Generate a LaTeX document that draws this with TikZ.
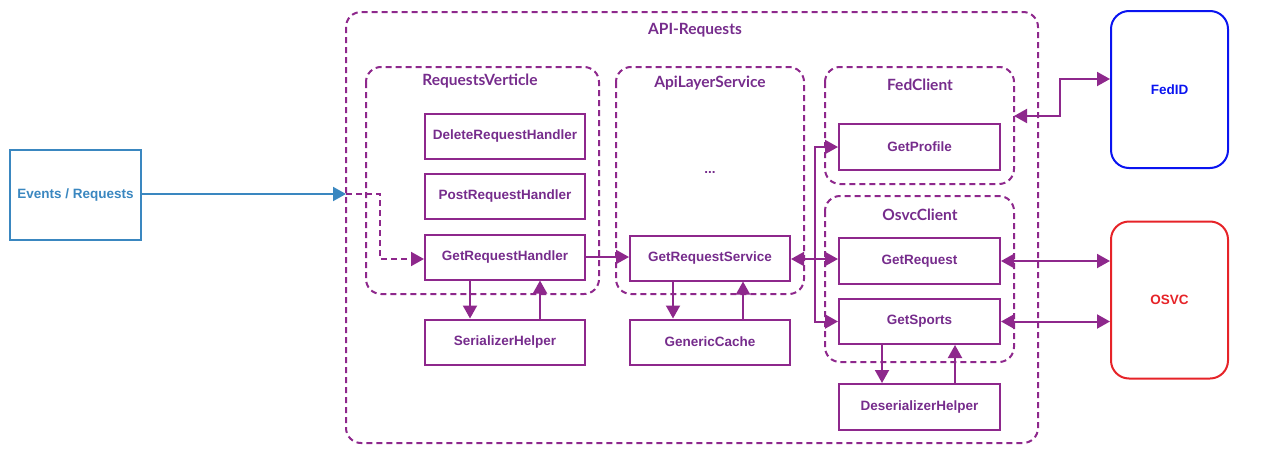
\documentclass[tikz,border=0pt]{standalone}
\usepackage{fontspec}
\setmainfont{Liberation Sans}
\newfontfamily\titlefont{Lato}
\usetikzlibrary{arrows.meta}
\definecolor{pur}{RGB}{142,40,140}
\definecolor{purtext}{RGB}{118,44,140}
\definecolor{evblue}{RGB}{58,135,192}
\definecolor{fedblue}{RGB}{10,20,240}
\definecolor{osvcred}{RGB}{230,35,40}
\begin{document}
\begin{tikzpicture}[x=1pt,y=-1pt,
  >={Triangle[length=13pt,width=14pt]},
  tip/.style={->},
  dtip/.style={<->},
  box/.style={draw=pur,line width=2pt,minimum width=160pt,minimum height=45pt,inner sep=0pt,
    text=purtext,font=\bfseries\fontsize{13.5}{15}\selectfont},
  group/.style={draw=pur,line width=2pt,dash pattern=on 6pt off 4pt,rounded corners=15pt},
  gtitle/.style={text=purtext,font=\titlefont\bfseries\fontsize{15.5}{17}\selectfont},
  conn/.style={draw=pur,line width=2pt},
  ext/.style={line width=2pt,rounded corners=18pt,minimum width=117pt,minimum height=157pt,inner sep=0pt,
    font=\bfseries\fontsize{13.5}{15}\selectfont}]
\useasboundingbox (0,0) rectangle (1268,471);
% containers
\draw[group] (346,12) rectangle (1038,443);
\node[gtitle] (tapi) at (695,30) {API-Requests};
\draw[group] (366,67) rectangle (599,294);
\node[gtitle] (trv) at (480,81) {RequestsVerticle};
\draw[group] (616,67) rectangle (804,294);
\node[gtitle] (tals) at (710,83) {ApiLayerService};
\coordinate (fcr) at (1014,116);
\draw[group] (825,67) rectangle (1014,184);
\node[gtitle] (tfc) at (920,85) {FedClient};
\draw[group] (825,196) rectangle (1014,362);
\node[gtitle] (toc) at (920,215) {OsvcClient};
% external
\node[draw=evblue,line width=2pt,minimum width=131pt,minimum height=90pt,inner sep=0pt,
  text=evblue,font=\bfseries\fontsize{13.5}{15}\selectfont] (ev) at (75.5,195) {Events / Requests};
\node[ext,draw=fedblue,text=fedblue] (fed) at (1169.5,89.5) {FedID};
\node[ext,draw=osvcred,text=osvcred] (osvc) at (1169.5,300) {OSVC};
% boxes
\node[box] (drh) at (505,136) {DeleteRequestHandler};
\node[box] (prh) at (505,196.5) {PostRequestHandler};
\node[box] (grh) at (505,257) {GetRequestHandler};
\node[box] (sh) at (505,342) {SerializerHelper};
\node[text=purtext,font=\bfseries\fontsize{13.5}{15}\selectfont] (dots) at (710,172) {...};
\node[box] (grs) at (710,258) {GetRequestService};
\node[box] (gc) at (710,342) {GenericCache};
\node[box,minimum width=161pt,minimum height=46pt] (gp) at (919.5,147) {GetProfile};
\node[box,minimum width=161pt,minimum height=46pt] (gr) at (919.5,261) {GetRequest};
\node[box,minimum width=161pt,minimum height=45pt] (gs) at (919.5,321.5) {GetSports};
\node[box,minimum width=161pt,minimum height=46pt] (dh) at (919.5,407) {DeserializerHelper};
% connectors
\coordinate (entry) at (346,194);
\draw[evblue,line width=2pt,tip] (ev.east |- entry) -- (entry);
\draw[pur,line width=2pt,dash pattern=on 6pt off 4pt,tip] (entry) -| (380,259) -- (grh.west |- 0,259);
\draw[conn,tip] (grh.east) -- (grs.west |- grh.east);
\draw[conn,tip] (grh.south -| 470,0) -- (sh.north -| 470,0);
\draw[conn,tip] (sh.north -| 540,0) -- (grh.south -| 540,0);
\draw[conn,tip] (grs.south -| 673,0) -- (gc.north -| 673,0);
\draw[conn,tip] (gc.north -| 743,0) -- (grs.south -| 743,0);
\coordinate (br) at (815,259);
\draw[conn,dtip] (grs.east |- br) -- (gr.west |- br);
\draw[conn,tip] (br) |- (gp.west);
\draw[conn,tip] (br) |- (gs.west);
\draw[conn,dtip] (gr.east) -- (osvc.west |- gr.east);
\draw[conn,dtip] (gs.east) -- (osvc.west |- gs.east);
\draw[conn,dtip] (fcr) -- (1060,116) |- (fed.west |- 0,79);
\draw[conn,tip] (gs.south -| 882,0) -- (dh.north -| 882,0);
\draw[conn,tip] (dh.north -| 955,0) -- (gs.south -| 955,0);
\end{tikzpicture}
\end{document}
